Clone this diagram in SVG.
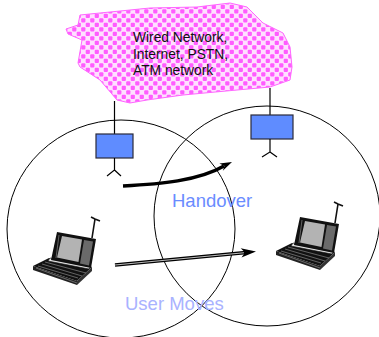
<svg xmlns="http://www.w3.org/2000/svg" width="379" height="337" viewBox="0 0 379 337">
  <defs>
    <style>
      .cell { fill: none; stroke: #000; stroke-width: 1; }
      .ap-box { fill: #5f8cff; stroke: #2a2a3a; stroke-width: 1.2; }
      .ap-line { fill: none; stroke: #000; stroke-width: 1.2; }
      .cloud-text { font-family: "Liberation Sans", Arial, sans-serif; font-size: 13.8px; fill: #111; }
      .label { font-family: "Liberation Sans", Arial, sans-serif; font-size: 18.5px; }
    </style>
    <!-- dotted magenta fill of the wired network cloud -->
    <pattern id="dots" width="9" height="9" patternUnits="userSpaceOnUse">
      <rect width="9" height="9" fill="#ffe0ff"/>
      <rect x="0.2" y="0.2" width="4.2" height="4.2" rx="1" fill="#ff5cff"/>
      <rect x="4.7" y="4.7" width="4.2" height="4.2" rx="1" fill="#ff5cff"/>
    </pattern>
    <!-- laptop with antenna -->
    <g id="laptop">
      <!-- antenna -->
      <path d="M92,238 L95,219 M95,219 L91,217 M95,219 L100,221" fill="none" stroke="#111" stroke-width="1.6"/>
      <!-- base / keyboard -->
      <polygon points="33,266 49,258 92,267 77,281" fill="#111"/>
      <polygon points="33,266 77,281 77,285 33,270" fill="#222"/>
      <polygon points="77,281 92,267 92,271 77,285" fill="#333"/>
      <path d="M38,266 L78,278 M42,264 L82,276 M45,262 L86,273 M36,268 L77,283" stroke="#9a9a9a" stroke-width="0.6" fill="none"/>
      <!-- hinge strip -->
      <polygon points="50,258 91,266 89,269 48,261" fill="#e8e8e8" stroke="#111" stroke-width="0.6"/>
      <!-- lid -->
      <polygon points="57,232 96,239 91,268 51,260" fill="#111"/>
      <polygon points="84,240 93,241.5 89,265.5 80,263.5" fill="#6a6a6a"/>
      <polygon points="62,236 82,239.5 78.5,262 57,257.5" fill="#b3b3b3"/>
      <path d="M59,235 L56,258" stroke="#777" stroke-width="0.8"/>
    </g>
  </defs>

  <!-- wired network cloud -->
  <g id="wired-network">
    <path d="M80,15 L150,8 L197,7 L230,3 L247,7 L263,23 L283,33 L290,47 L292,67 L290,80 L270,87 L237,90 L183,95 L147,100 L130,103 L117,100 L100,80 L80,67 L78,63 L82,40 L68,34 L66,29 L78,25 Z" fill="url(#dots)" stroke="#ff66ff" stroke-width="1"/>
    <text class="cloud-text" x="133" y="42">Wired Network,</text>
    <text class="cloud-text" x="133" y="59">Internet, PSTN,</text>
    <text class="cloud-text" x="133" y="75">ATM network</text>
  </g>

  <!-- radio cells -->
  <g id="cells">
    <ellipse id="cell-left" class="cell" cx="121" cy="229" rx="114" ry="109"/>
    <ellipse id="cell-right" class="cell" cx="267" cy="216" rx="113" ry="110"/>
  </g>

  <!-- access point, left cell -->
  <g id="ap-left">
    <line class="ap-line" x1="114.5" y1="101" x2="114.5" y2="134"/>
    <rect class="ap-box" x="96" y="134" width="37" height="24"/>
    <path class="ap-line" d="M114.5,158 V170 L107,176 M114.5,170 L121,176" stroke-width="1.5"/>
  </g>

  <!-- access point, right cell -->
  <g id="ap-right">
    <line class="ap-line" x1="270" y1="88" x2="270" y2="115"/>
    <rect class="ap-box" x="251" y="115" width="42" height="24"/>
    <path class="ap-line" d="M270,139 V152 L262,157 M270,152 L277,157" stroke-width="1.5"/>
  </g>

  <!-- mobile host before and after the move -->
  <g id="laptop-left">
    <use href="#laptop"/>
  </g>
  <g id="laptop-right">
    <use href="#laptop" transform="translate(243,-15)"/>
  </g>

  <!-- connectors -->
  <g id="connectors">
    <!-- handover arrow -->
    <path d="M123,186 C160,184 198,181 224,166" fill="none" stroke="#000" stroke-width="3.5"/>
    <polygon points="232,162 219.4,163.5 224.5,166 222.8,170.7" fill="#000"/>
    <!-- user movement arrow -->
    <line x1="115" y1="265" x2="246" y2="252.5" stroke="#000" stroke-width="3.6"/>
    <line x1="115" y1="265" x2="244" y2="252.7" stroke="#bdbdbd" stroke-width="1.1"/>
    <polygon points="256,251.5 240.7,248.2 245,252.5 241.5,257.5" fill="#000"/>
  </g>

  <text id="label-handover" class="label" x="172" y="207" fill="#6a8cff">Handover</text>
  <text id="label-user-moves" class="label" x="125" y="310" fill="#a9b2ff">User Moves</text>
</svg>
